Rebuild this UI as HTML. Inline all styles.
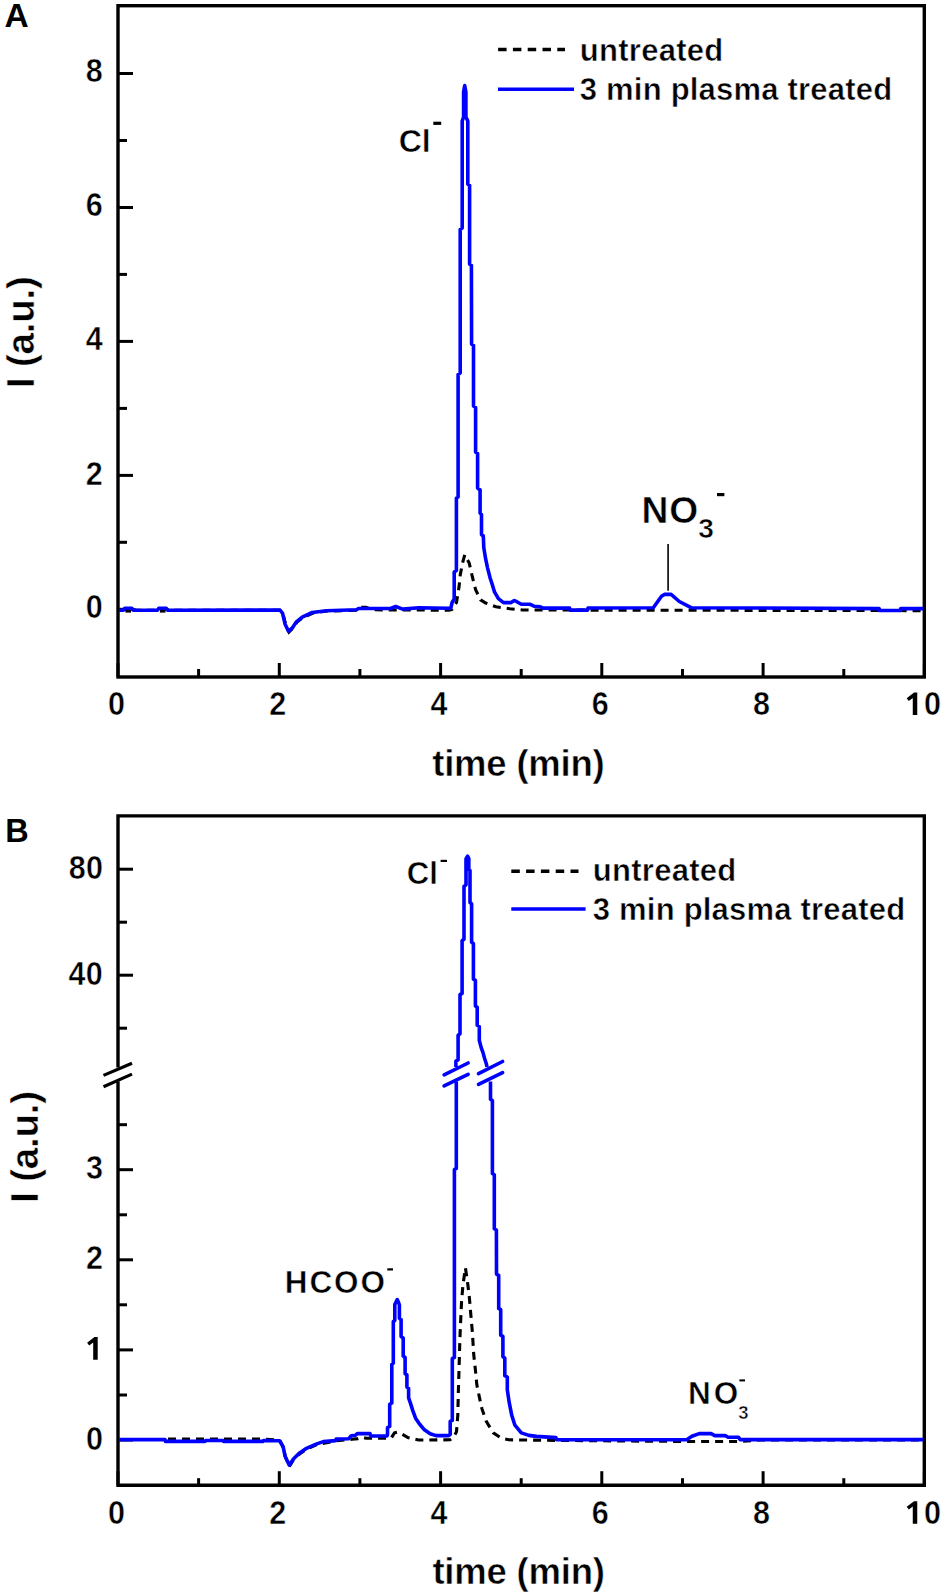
<!DOCTYPE html>
<html><head><meta charset="utf-8"><title>Ion chromatograms</title>
<style>html,body{margin:0;padding:0;background:#fff;}svg{display:block;}</style>
</head><body>
<svg width="945" height="1596" viewBox="0 0 945 1596">
<rect width="945" height="1596" fill="#fff"/>
<rect x="118.0" y="5.7" width="806.3" height="671.3" fill="none" stroke="#000" stroke-width="3.4"/>
<line x1="118.0" y1="677.0" x2="118.0" y2="663.0" stroke="#000" stroke-width="3"/>
<line x1="198.6" y1="677.0" x2="198.6" y2="669.0" stroke="#000" stroke-width="3"/>
<line x1="279.3" y1="677.0" x2="279.3" y2="663.0" stroke="#000" stroke-width="3"/>
<line x1="359.9" y1="677.0" x2="359.9" y2="669.0" stroke="#000" stroke-width="3"/>
<line x1="440.6" y1="677.0" x2="440.6" y2="663.0" stroke="#000" stroke-width="3"/>
<line x1="521.2" y1="677.0" x2="521.2" y2="669.0" stroke="#000" stroke-width="3"/>
<line x1="601.8" y1="677.0" x2="601.8" y2="663.0" stroke="#000" stroke-width="3"/>
<line x1="682.5" y1="677.0" x2="682.5" y2="669.0" stroke="#000" stroke-width="3"/>
<line x1="763.1" y1="677.0" x2="763.1" y2="663.0" stroke="#000" stroke-width="3"/>
<line x1="843.8" y1="677.0" x2="843.8" y2="669.0" stroke="#000" stroke-width="3"/>
<line x1="924.4" y1="677.0" x2="924.4" y2="663.0" stroke="#000" stroke-width="3"/>
<line x1="118.0" y1="609.3" x2="133.0" y2="609.3" stroke="#000" stroke-width="3"/>
<line x1="118.0" y1="542.3" x2="127.0" y2="542.3" stroke="#000" stroke-width="3"/>
<line x1="118.0" y1="475.4" x2="133.0" y2="475.4" stroke="#000" stroke-width="3"/>
<line x1="118.0" y1="408.4" x2="127.0" y2="408.4" stroke="#000" stroke-width="3"/>
<line x1="118.0" y1="341.4" x2="133.0" y2="341.4" stroke="#000" stroke-width="3"/>
<line x1="118.0" y1="274.4" x2="127.0" y2="274.4" stroke="#000" stroke-width="3"/>
<line x1="118.0" y1="207.5" x2="133.0" y2="207.5" stroke="#000" stroke-width="3"/>
<line x1="118.0" y1="140.5" x2="127.0" y2="140.5" stroke="#000" stroke-width="3"/>
<line x1="118.0" y1="73.5" x2="133.0" y2="73.5" stroke="#000" stroke-width="3"/>
<text transform="translate(116.5,715.0) scale(0.94,1)" font-family="Liberation Sans" font-weight="bold" font-size="32.5" text-anchor="middle" stroke="#fff" stroke-width="0.5">0</text>
<text transform="translate(277.8,715.0) scale(0.94,1)" font-family="Liberation Sans" font-weight="bold" font-size="32.5" text-anchor="middle" stroke="#fff" stroke-width="0.5">2</text>
<text transform="translate(439.1,715.0) scale(0.94,1)" font-family="Liberation Sans" font-weight="bold" font-size="32.5" text-anchor="middle" stroke="#fff" stroke-width="0.5">4</text>
<text transform="translate(600.3,715.0) scale(0.94,1)" font-family="Liberation Sans" font-weight="bold" font-size="32.5" text-anchor="middle" stroke="#fff" stroke-width="0.5">6</text>
<text transform="translate(761.6,715.0) scale(0.94,1)" font-family="Liberation Sans" font-weight="bold" font-size="32.5" text-anchor="middle" stroke="#fff" stroke-width="0.5">8</text>
<polygon points="917.25,692.60 914.07,692.60 906.70,698.18 908.79,700.96 912.77,697.98 912.77,715.10 917.25,715.10" fill="#000"/><text transform="translate(924.0,715.0) scale(0.94,1)" font-family="Liberation Sans" font-weight="bold" font-size="32.5" text-anchor="start" stroke="#fff" stroke-width="0.5">0</text>
<text transform="translate(102.8,81.5) scale(0.94,1)" font-family="Liberation Sans" font-weight="bold" font-size="32.5" text-anchor="end" stroke="#fff" stroke-width="0.5">8</text>
<text transform="translate(102.8,216.4) scale(0.94,1)" font-family="Liberation Sans" font-weight="bold" font-size="32.5" text-anchor="end" stroke="#fff" stroke-width="0.5">6</text>
<text transform="translate(102.8,349.5) scale(0.94,1)" font-family="Liberation Sans" font-weight="bold" font-size="32.5" text-anchor="end" stroke="#fff" stroke-width="0.5">4</text>
<text transform="translate(102.8,484.8) scale(0.94,1)" font-family="Liberation Sans" font-weight="bold" font-size="32.5" text-anchor="end" stroke="#fff" stroke-width="0.5">2</text>
<text transform="translate(102.8,617.9) scale(0.94,1)" font-family="Liberation Sans" font-weight="bold" font-size="32.5" text-anchor="end" stroke="#fff" stroke-width="0.5">0</text>
<text x="518.4" y="775.6" font-family="Liberation Sans" font-weight="bold" font-size="36.5" text-anchor="middle" letter-spacing="-0.2" stroke="#fff" stroke-width="0.5">time (min)</text>
<text transform="translate(34.3,332.2) rotate(-90)" font-family="Liberation Sans" font-weight="bold" font-size="38.5" text-anchor="middle" letter-spacing="-0.2" stroke="#fff" stroke-width="0.5">I (a.u.)</text>
<text x="4.4" y="26.8" font-family="Liberation Sans" font-weight="bold" font-size="33.5">A</text>
<line x1="498.1" y1="49.5" x2="565" y2="49.5" stroke="#000" stroke-width="3.4" stroke-dasharray="8.5,6.3"/>
<line x1="498" y1="89.3" x2="574" y2="89.3" stroke="#0000ff" stroke-width="3.6"/>
<text x="579.8" y="60.7" font-family="Liberation Sans" font-weight="bold" font-size="31" letter-spacing="0.28" stroke="#fff" stroke-width="0.5">untreated</text>
<text x="579.8" y="100.3" font-family="Liberation Sans" font-weight="bold" font-size="31" letter-spacing="0.21" stroke="#fff" stroke-width="0.5">3 min plasma treated</text>
<path d="M118.0,1067.5 L118.0,815.9 L924.3,815.9 L924.3,1485.2 L118.0,1485.2 L118.0,1081.5" fill="none" stroke="#000" stroke-width="3.4"/>
<line x1="103.5" y1="1075.4" x2="132" y2="1063.3" stroke="#000" stroke-width="3.2"/>
<line x1="103.5" y1="1086.8" x2="132" y2="1074.1" stroke="#000" stroke-width="3.2"/>
<line x1="118.0" y1="1485.2" x2="118.0" y2="1471.2" stroke="#000" stroke-width="3"/>
<line x1="198.6" y1="1485.2" x2="198.6" y2="1478.2" stroke="#000" stroke-width="3"/>
<line x1="279.3" y1="1485.2" x2="279.3" y2="1471.2" stroke="#000" stroke-width="3"/>
<line x1="359.9" y1="1485.2" x2="359.9" y2="1478.2" stroke="#000" stroke-width="3"/>
<line x1="440.6" y1="1485.2" x2="440.6" y2="1471.2" stroke="#000" stroke-width="3"/>
<line x1="521.2" y1="1485.2" x2="521.2" y2="1478.2" stroke="#000" stroke-width="3"/>
<line x1="601.8" y1="1485.2" x2="601.8" y2="1471.2" stroke="#000" stroke-width="3"/>
<line x1="682.5" y1="1485.2" x2="682.5" y2="1478.2" stroke="#000" stroke-width="3"/>
<line x1="763.1" y1="1485.2" x2="763.1" y2="1471.2" stroke="#000" stroke-width="3"/>
<line x1="843.8" y1="1485.2" x2="843.8" y2="1478.2" stroke="#000" stroke-width="3"/>
<line x1="924.4" y1="1485.2" x2="924.4" y2="1471.2" stroke="#000" stroke-width="3"/>
<text transform="translate(116.5,1523.6) scale(0.94,1)" font-family="Liberation Sans" font-weight="bold" font-size="32.5" text-anchor="middle" stroke="#fff" stroke-width="0.5">0</text>
<text transform="translate(277.8,1523.6) scale(0.94,1)" font-family="Liberation Sans" font-weight="bold" font-size="32.5" text-anchor="middle" stroke="#fff" stroke-width="0.5">2</text>
<text transform="translate(439.1,1523.6) scale(0.94,1)" font-family="Liberation Sans" font-weight="bold" font-size="32.5" text-anchor="middle" stroke="#fff" stroke-width="0.5">4</text>
<text transform="translate(600.3,1523.6) scale(0.94,1)" font-family="Liberation Sans" font-weight="bold" font-size="32.5" text-anchor="middle" stroke="#fff" stroke-width="0.5">6</text>
<text transform="translate(761.6,1523.6) scale(0.94,1)" font-family="Liberation Sans" font-weight="bold" font-size="32.5" text-anchor="middle" stroke="#fff" stroke-width="0.5">8</text>
<polygon points="917.25,1501.20 914.07,1501.20 906.70,1506.78 908.79,1509.56 912.77,1506.58 912.77,1523.70 917.25,1523.70" fill="#000"/><text transform="translate(924.0,1523.6) scale(0.94,1)" font-family="Liberation Sans" font-weight="bold" font-size="32.5" text-anchor="start" stroke="#fff" stroke-width="0.5">0</text>
<line x1="118.0" y1="1440.0" x2="133.0" y2="1440.0" stroke="#000" stroke-width="3"/>
<line x1="118.0" y1="1395.0" x2="127.0" y2="1395.0" stroke="#000" stroke-width="3"/>
<line x1="118.0" y1="1349.9" x2="133.0" y2="1349.9" stroke="#000" stroke-width="3"/>
<line x1="118.0" y1="1304.8" x2="127.0" y2="1304.8" stroke="#000" stroke-width="3"/>
<line x1="118.0" y1="1259.8" x2="133.0" y2="1259.8" stroke="#000" stroke-width="3"/>
<line x1="118.0" y1="1214.8" x2="127.0" y2="1214.8" stroke="#000" stroke-width="3"/>
<line x1="118.0" y1="1169.7" x2="133.0" y2="1169.7" stroke="#000" stroke-width="3"/>
<line x1="118.0" y1="1124.7" x2="127.0" y2="1124.7" stroke="#000" stroke-width="3"/>
<text transform="translate(102.89999999999999,1179.3) scale(0.94,1)" font-family="Liberation Sans" font-weight="bold" font-size="32.5" text-anchor="end" stroke="#fff" stroke-width="0.5">3</text>
<text transform="translate(102.89999999999999,1269.0) scale(0.94,1)" font-family="Liberation Sans" font-weight="bold" font-size="32.5" text-anchor="end" stroke="#fff" stroke-width="0.5">2</text>
<text transform="translate(102.89999999999999,1449.6) scale(0.94,1)" font-family="Liberation Sans" font-weight="bold" font-size="32.5" text-anchor="end" stroke="#fff" stroke-width="0.5">0</text>
<polygon points="97.70,1337.10 94.50,1337.10 87.10,1342.70 89.20,1345.50 93.20,1342.50 93.20,1359.70 97.70,1359.70" fill="#000"/>
<line x1="118.0" y1="1028.2" x2="127.0" y2="1028.2" stroke="#000" stroke-width="3"/>
<line x1="118.0" y1="975.2" x2="133.0" y2="975.2" stroke="#000" stroke-width="3"/>
<line x1="118.0" y1="922.2" x2="127.0" y2="922.2" stroke="#000" stroke-width="3"/>
<line x1="118.0" y1="869.2" x2="133.0" y2="869.2" stroke="#000" stroke-width="3"/>
<text transform="translate(103.2,878.7) scale(0.94,1)" font-family="Liberation Sans" font-weight="bold" font-size="32.5" text-anchor="end" letter-spacing="0.2" stroke="#fff" stroke-width="0.5">80</text>
<text transform="translate(103.2,985.2) scale(0.94,1)" font-family="Liberation Sans" font-weight="bold" font-size="32.5" text-anchor="end" letter-spacing="0.4" stroke="#fff" stroke-width="0.5">40</text>
<text x="518.6" y="1584.1" font-family="Liberation Sans" font-weight="bold" font-size="36.5" text-anchor="middle" letter-spacing="-0.2" stroke="#fff" stroke-width="0.5">time (min)</text>
<text transform="translate(38.3,1146.9) rotate(-90)" font-family="Liberation Sans" font-weight="bold" font-size="38.5" text-anchor="middle" letter-spacing="-0.2" stroke="#fff" stroke-width="0.5">I (a.u.)</text>
<text x="5.2" y="841.7" font-family="Liberation Sans" font-weight="bold" font-size="32.5">B</text>
<line x1="511.3" y1="871.2" x2="578.5" y2="871.2" stroke="#000" stroke-width="3.4" stroke-dasharray="8.5,6.3"/>
<line x1="511.3" y1="909.0" x2="585.6" y2="909.0" stroke="#0000ff" stroke-width="3.6"/>
<text x="592.8" y="880.5" font-family="Liberation Sans" font-weight="bold" font-size="31" letter-spacing="0.28" stroke="#fff" stroke-width="0.5">untreated</text>
<text x="592.8" y="920.4" font-family="Liberation Sans" font-weight="bold" font-size="31" letter-spacing="0.21" stroke="#fff" stroke-width="0.5">3 min plasma treated</text>
<polyline points="119.0,610.4 124.0,609.3 133.0,609.3 137.0,610.4 155.0,610.4 158.0,609.3 167.0,609.3 170.0,610.4 280.0,610.4 283.0,614.5 286.0,625.5 289.0,632.0 293.0,628.0 297.0,622.0 303.0,617.5 313.0,613.0 327.0,611.0 356.0,610.3 360.0,607.3 366.0,607.3 372.0,609.8 449.0,610.2 452.0,609.5 456.5,602.4 459.0,587.1 460.3,574.4 462.9,561.7 464.8,554.8 469.2,563.0 472.4,577.0 475.6,589.7 480.6,599.8 485.7,603.0 495.9,606.8 509.8,608.7 522.5,610.0 923.0,610.6" fill="none" stroke="#000" stroke-width="3.1" stroke-dasharray="8,6"/>
<polyline points="119.0,610.3 123.4,610.3 124.8,608.3 131.8,608.3 133.2,610.3 157.4,610.3 158.8,608.3 166.2,608.3 167.6,610.3 280.0,610.1 282.5,613.1 285.1,624.2 288.5,631.2 292.1,628.2 296.1,622.2 302.2,617.1 312.2,612.5 326.3,610.7 356.5,609.7 358.5,608.5 390.6,608.5 395.7,606.5 402.7,609.1 418.8,607.7 448.9,608.3 450.8,608.3 452.1,602.5 454.2,599.0 454.2,572.0 456.4,570.5 456.4,498.0 458.1,497.0 458.1,374.5 460.2,373.0 460.2,229.5 462.2,228.0 462.2,121.0 463.6,117.0 463.6,92.0 464.7,85.5 465.9,92.0 465.9,117.0 467.8,121.0 467.8,184.0 469.6,185.5 469.6,264.0 471.4,265.5 471.6,344.0 473.5,345.5 473.5,406.0 475.6,407.5 475.6,452.0 477.6,453.5 477.6,488.0 480.1,490.0 480.1,513.0 481.5,514.5 481.5,534.5 483.3,536.0 483.8,547.8 485.7,559.2 487.6,568.1 490.2,578.3 492.7,585.9 494.6,592.2 498.4,598.6 503.5,602.6 511.1,602.6 514.3,600.5 516.8,601.7 521.3,604.3 530.2,604.3 534.0,606.2 540.3,606.8 542.9,608.1 569.6,608.0 570.0,610.1 587.6,610.1 588.0,608.0 653.3,607.7 661.5,596.3 664.4,594.4 671.1,594.4 679.3,601.5 691.1,607.7 879.2,608.6 879.5,610.5 900.4,610.5 900.7,608.6 923.0,608.6" fill="none" stroke="#0000ff" stroke-width="3.6" stroke-linejoin="round"/>
<polyline points="168.0,1439.1 262.0,1439.1 279.6,1440.0 283.0,1447.0 285.5,1457.0 289.3,1466.5 293.4,1460.0 298.9,1454.5 305.8,1449.5 316.8,1444.5 336.0,1440.8 352.0,1439.3 358.0,1438.6 362.3,1437.4 366.0,1438.3 391.0,1438.3 394.5,1432.8 397.0,1432.2 400.0,1433.0 407.9,1437.6 418.5,1440.0 450.0,1439.8 454.0,1436.7 456.5,1431.6 457.8,1415.1 458.4,1389.7 459.0,1370.6 459.7,1345.2 460.3,1328.7 461.0,1313.5 461.6,1300.8 462.9,1285.6 465.4,1267.8 467.3,1280.5 469.2,1295.7 470.5,1311.0 472.4,1332.5 473.7,1354.1 475.6,1371.9 476.8,1384.6 479.4,1397.3 481.9,1408.7 486.3,1421.4 493.3,1432.9 501.0,1437.9 508.6,1439.8 555.0,1440.4 690.0,1441.5 740.0,1441.5 760.0,1440.0 923.0,1440.0" fill="none" stroke="#000" stroke-width="3.1" stroke-dasharray="8,6"/>
<polyline points="119.0,1439.6 165.0,1439.6 165.5,1441.4 205.0,1441.4 205.5,1440.5 223.0,1440.5 223.5,1441.4 263.0,1441.4 263.5,1440.5 279.6,1440.8 283.1,1446.6 285.1,1456.3 289.3,1465.2 293.4,1459.0 298.9,1453.5 305.8,1448.7 316.8,1443.9 323.4,1441.6 335.5,1440.6 336.1,1439.1 348.8,1438.7 351.3,1435.7 355.6,1435.3 357.3,1433.6 370.0,1433.6 370.8,1436.0 386.9,1436.0 387.5,1434.5 387.5,1427.5 389.7,1426.4 389.7,1404.2 391.8,1403.0 391.8,1364.4 393.3,1363.2 393.3,1321.5 394.8,1320.5 394.8,1304.6 396.0,1302.0 397.2,1299.7 398.4,1302.0 399.4,1305.0 399.4,1318.2 401.1,1319.5 401.1,1336.6 403.2,1338.0 403.2,1356.0 405.1,1357.5 405.1,1373.5 406.9,1375.0 406.9,1387.1 408.6,1388.5 408.6,1397.8 410.6,1403.6 412.7,1410.4 415.6,1418.2 419.5,1424.0 424.4,1429.8 430.2,1433.7 436.0,1435.6 448.6,1435.6 450.2,1434.5 450.2,1421.4 452.3,1420.4 452.3,1358.6 454.4,1357.4 454.4,1169.6 456.3,1168.4 456.3,1081.5" fill="none" stroke="#0000ff" stroke-width="3.6" stroke-linejoin="round"/>
<polyline points="490.5,1081.5 490.5,1099.2 492.4,1100.4 492.4,1173.6 494.3,1174.8 494.3,1228.8 496.4,1230.0 496.5,1274.1 498.7,1275.3 498.7,1308.4 500.7,1309.6 500.7,1335.1 502.9,1336.3 502.9,1356.7 504.8,1357.9 504.8,1375.7 507.3,1377.0 507.3,1389.7 509.2,1402.4 511.7,1415.1 514.9,1425.2 521.3,1432.9 528.9,1435.4 536.5,1436.4 556.0,1437.6 556.5,1439.7 686.7,1439.7 691.9,1436.3 699.3,1433.6 711.1,1433.6 714.8,1435.6 725.2,1435.6 728.1,1437.3 738.5,1437.3 740.0,1439.6 923.0,1439.6" fill="none" stroke="#0000ff" stroke-width="3.6" stroke-linejoin="round"/>
<polyline points="455.9,1067.0 455.9,1061.0 458.1,1059.8 458.1,1035.2 460.0,1033.8 460.0,994.6 462.1,993.4 462.1,940.6 464.0,939.2 464.0,886.4 466.0,884.8 466.0,859.0 467.6,856.2 468.8,858.5 468.8,869.4 470.0,870.6 470.0,902.6 471.6,903.8 471.6,942.2 473.4,943.4 473.4,979.1 475.4,980.3 475.4,1006.0 477.2,1007.2 477.2,1025.3 479.3,1026.5 479.3,1040.4 481.1,1047.4 483.0,1052.6 484.4,1057.8 486.3,1063.7 487.0,1067.0" fill="none" stroke="#0000ff" stroke-width="3.6" stroke-linejoin="round"/>
<line x1="444.1" y1="1074.8" x2="468.1" y2="1063" stroke="#0000ff" stroke-width="3.6" stroke-linecap="round"/>
<line x1="444.1" y1="1085.9" x2="468.1" y2="1074.4" stroke="#0000ff" stroke-width="3.6" stroke-linecap="round"/>
<line x1="478.5" y1="1073.7" x2="502.6" y2="1061.5" stroke="#0000ff" stroke-width="3.6" stroke-linecap="round"/>
<line x1="478.5" y1="1084.4" x2="502.6" y2="1072.6" stroke="#0000ff" stroke-width="3.6" stroke-linecap="round"/>
<rect x="125.4" y="609.9" width="5.6" height="2.7" fill="#000"/>
<rect x="159.9" y="609.9" width="5.6" height="2.7" fill="#000"/>
<line x1="668.1" y1="544" x2="668.1" y2="590.8" stroke="#000" stroke-width="1.6"/>
<text x="398.7" y="152.2" font-family="Liberation Sans" font-weight="bold" font-size="32" stroke="#fff" stroke-width="0.5">Cl</text>
<rect x="433.3" y="121.7" width="7.9" height="3.2" fill="#000"/>
<text x="641.6" y="523.3" font-family="Liberation Sans" font-weight="bold" font-size="37.2" letter-spacing="0.9" stroke="#fff" stroke-width="0.5">NO</text>
<text x="698.3" y="537.8" font-family="Liberation Sans" font-weight="bold" font-size="28" stroke="#fff" stroke-width="0.5">3</text>
<rect x="717" y="493" width="7.4" height="3.2" fill="#000"/>
<text x="406.8" y="884.0" font-family="Liberation Sans" font-weight="bold" font-size="31" stroke="#fff" stroke-width="0.5">Cl</text>
<rect x="440.6" y="859.8" width="6.4" height="2.2" fill="#000"/>
<text x="284.8" y="1293.3" font-family="Liberation Sans" font-weight="bold" font-size="31.5" letter-spacing="1.9" stroke="#fff" stroke-width="0.5">HCOO</text>
<rect x="387.3" y="1268.3" width="5.7" height="2.2" fill="#000"/>
<text x="688.0" y="1403.9" font-family="Liberation Sans" font-weight="bold" font-size="31.5" letter-spacing="3.0" stroke="#fff" stroke-width="0.5">NO</text>
<text x="738.2" y="1419.1" font-family="Liberation Sans" font-weight="bold" font-size="18.5" stroke="#fff" stroke-width="0.5">3</text>
<rect x="739.4" y="1379.4" width="5.6" height="2" fill="#000"/>
</svg>
</body></html>
